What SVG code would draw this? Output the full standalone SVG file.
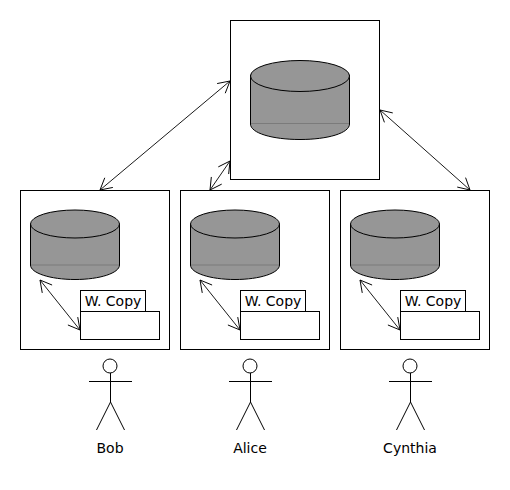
<svg xmlns="http://www.w3.org/2000/svg" width="510" height="490" viewBox="0 0 510 490">
<style>
.box{fill:#fff;stroke:#000;stroke-width:1}
.cyl{fill:#969696;stroke:#000;stroke-width:1}
.seam{fill:none;stroke:#000;stroke-opacity:.18;stroke-width:1}
.link{fill:none;stroke:#000;stroke-width:.9;marker-start:url(#open);marker-end:url(#open)}
.actor{fill:none;stroke:#000;stroke-width:1}
text{font-family:"DejaVu Sans",sans-serif;font-size:14px;fill:#000;text-anchor:middle}
</style>
<defs>
<marker id="open" markerUnits="userSpaceOnUse" markerWidth="16" markerHeight="16" refX="14" refY="8" orient="auto-start-reverse" viewBox="0 0 16 16">
<path d="M2.500 1.700L14 8L2.500 14.300" fill="none" stroke="#000" stroke-width=".9"/>
</marker>
<g id="small-cyl">
<path class="cyl" d="M30.500 224V265C30.500 273 50 279.500 75 279.500S119.500 273 119.500 265V224Z"/>
<path class="seam" d="M30.500 265H119.500M30.500 224H119.500"/>
<ellipse class="cyl" cx="75" cy="224" rx="44.500" ry="14"/>
</g>
<g id="actor-shape">
<circle class="actor" cx="110" cy="366" r="7"/>
<path class="actor" d="M89 381.500H132M110.500 373V402L96.500 430M110.500 402L124.500 430"/>
</g>
</defs>
<g id="server">
<rect class="box" x="230.500" y="20.500" width="149" height="159"/>
<path class="cyl" d="M250.500 75V124C250.500 133 272 139.500 300 139.500S349.500 133 349.500 124V75Z"/>
<path class="seam" d="M250.500 123.500H349.500M250.500 76.500H349.500"/>
<ellipse class="cyl" cx="300" cy="76" rx="49.500" ry="15.500"/>
</g>
<g id="bob">
<rect class="box" x="20.500" y="190.500" width="149" height="159"/>
<use href="#small-cyl"/>
<rect class="box" x="80.500" y="290.500" width="65" height="21"/>
<text x="113" y="306">W. Copy</text>
<rect class="box" x="80.500" y="311.500" width="79" height="28"/>
</g>
<g id="alice">
<rect class="box" x="180.500" y="190.500" width="149" height="159"/>
<use href="#small-cyl" x="160"/>
<rect class="box" x="240.500" y="290.500" width="65" height="21"/>
<text x="273" y="306">W. Copy</text>
<rect class="box" x="240.500" y="311.500" width="79" height="28"/>
</g>
<g id="cynthia">
<rect class="box" x="340.500" y="190.500" width="149" height="159"/>
<use href="#small-cyl" x="320"/>
<rect class="box" x="400.500" y="290.500" width="65" height="21"/>
<text x="433" y="306">W. Copy</text>
<rect class="box" x="400.500" y="311.500" width="79" height="28"/>
</g>
<g id="connectors">
<path class="link" d="M230 81L100 190"/>
<path class="link" d="M230 161L210 190"/>
<path class="link" d="M380 110L470 190"/>
<path class="link" d="M40 280L80 330"/>
<path class="link" d="M200 280L240 330"/>
<path class="link" d="M360 280L400 330"/>
</g>
<g id="actor-bob"><use href="#actor-shape"/><text x="110" y="453">Bob</text></g>
<g id="actor-alice"><use href="#actor-shape" x="140"/><text x="250" y="453">Alice</text></g>
<g id="actor-cynthia"><use href="#actor-shape" x="300"/><text x="410" y="453">Cynthia</text></g>
</svg>
